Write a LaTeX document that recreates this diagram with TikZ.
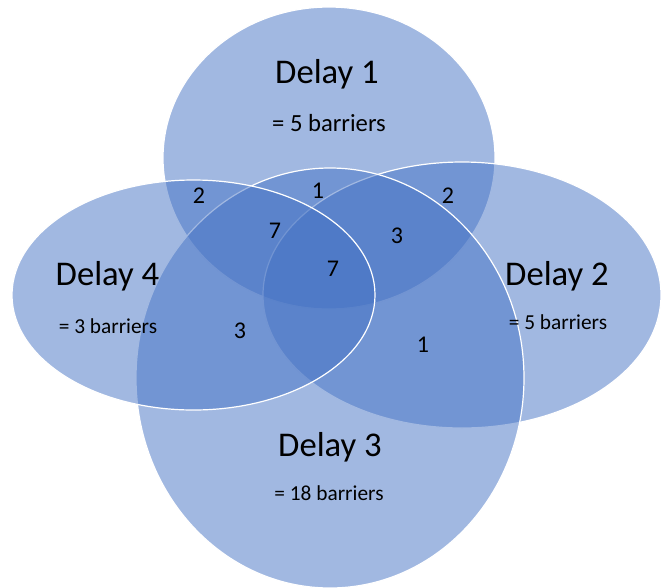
\documentclass[tikz,border=0pt]{standalone}
\usepackage{fontspec}
\setmainfont{Carlito}
\definecolor{vennblue}{HTML}{4472C4}
\begin{document}
\begin{tikzpicture}[x=0.75pt,y=-0.75pt,
  venn/.style={fill=vennblue,fill opacity=0.5,draw=white,draw opacity=1,line width=0.9pt},
  title/.style={anchor=base,inner sep=0pt,font=\fontsize{26}{30}\selectfont},
  sub/.style={anchor=base,inner sep=0pt,font=\fontsize{16}{19}\selectfont},
  num/.style={anchor=base,inner sep=0pt,font=\fontsize{18}{21}\selectfont}]
\useasboundingbox (0,0) rectangle (661,587);
\begin{scope}
\clip (0,0) rectangle (661,587);
\path[venn] (329,158) ellipse [x radius=166, y radius=151];
\path[venn] (462,295) ellipse [x radius=199, y radius=133];
\path[venn] (330,378) ellipse [x radius=194, y radius=210];
\path[venn] (193.5,295) ellipse [x radius=181.5, y radius=115];
\end{scope}
% labels
\node[title] (t1) at (327,83) {Delay 1};
\node[sub,font=\fontsize{18.5}{22}\selectfont] (s1) at (329,131) {= 5 barriers};
\node[title] (t2) at (557,285) {Delay 2};
\node[sub] (s2) at (558,329) {= 5 barriers};
\node[title] (t3) at (330,456) {Delay 3};
\node[sub] (s3) at (329,500) {= 18 barriers};
\node[title] (t4) at (107.5,285) {Delay 4};
\node[sub] (s4) at (108,333) {= 3 barriers};
% region counts
\node[num] (n14) at (199,203) {2};
\node[num] (n13) at (318,198) {1};
\node[num] (n12) at (448,203) {2};
\node[num] (n134) at (275,238) {7};
\node[num] (n123) at (397,243) {3};
\node[num] (n1234) at (333,276) {7};
\node[num] (n34) at (240,338) {3};
\node[num] (n23) at (423,352) {1};
\end{tikzpicture}
\end{document}
